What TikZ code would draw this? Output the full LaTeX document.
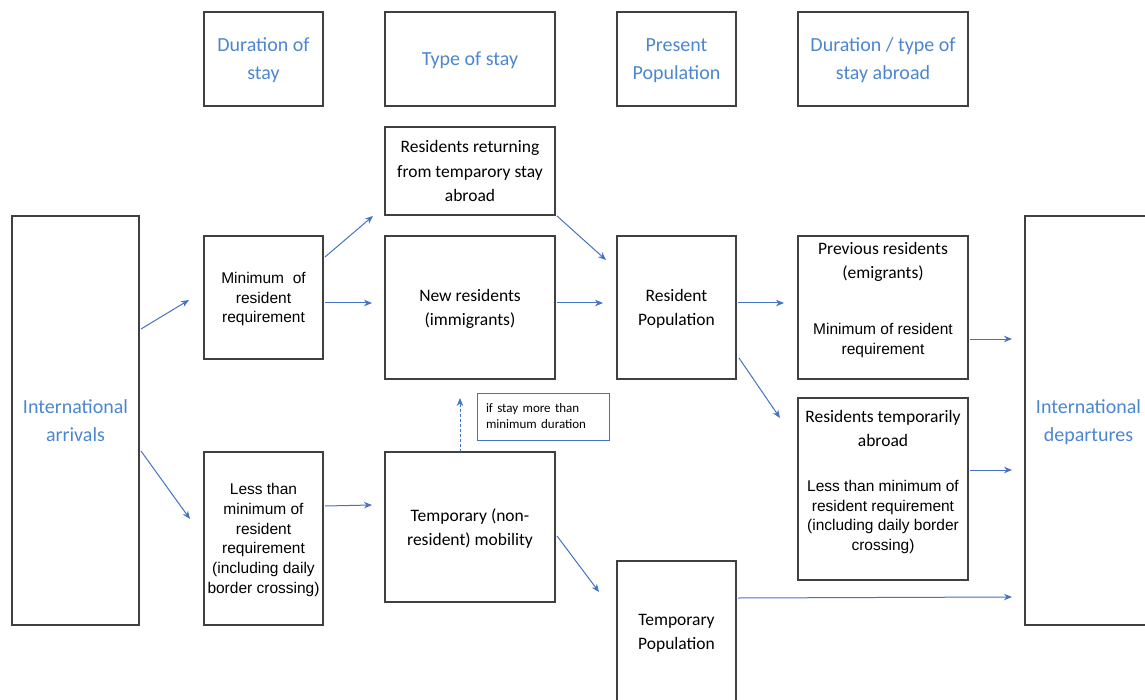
\documentclass[tikz,border=0pt]{standalone}
\usepackage{fontspec}
\setmainfont{Carlito}
\newfontfamily\tahfont{Liberation Sans}
\usetikzlibrary{positioning,calc,arrows.meta}

\definecolor{flowblue}{RGB}{68,114,196}
\definecolor{headblue}{RGB}{76,134,208}
\definecolor{edgegray}{RGB}{64,64,64}
\newcommand{\hdfont}{\fontsize{20}{28}\selectfont}
\newcommand{\bdfont}{\fontsize{17.5}{24.5}\selectfont}
\newcommand{\smfont}{\tahfont\fontsize{15.5}{19.7}\selectfont}

\begin{document}
\begin{tikzpicture}[
    x=1pt, y=-1pt,
    >={Stealth[length=8pt,width=6.5pt]},
    frame/.style={draw=edgegray, line width=1.1pt, align=center, inner sep=0pt, outer sep=0pt},
    box/.style={frame, text depth=0pt},
    head/.style={box, minimum height=94pt, font=\hdfont, text=headblue},
    flow/.style={->, draw=flowblue, line width=1pt}
]
\useasboundingbox (0,0) rectangle (1145,700);
\clip (0,0) rectangle (1145,700);

% column headers
\node[head, minimum width=119pt] (hdur) at (263.5,59) {Duration of\\stay};
\node[head, minimum width=170pt, right=62pt of hdur] (htype) {Type of stay};
\node[head, minimum width=119pt, right=62pt of htype] (hpres) {Present\\Population};
\node[head, minimum width=170pt, right=62pt of hpres] (habroad) {Duration / type of\\stay abroad};

% arrivals and departures
\node[box, minimum width=127pt, minimum height=409pt, font=\hdfont, text=headblue] (arr) at (75.5,420.5) {International\\arrivals};
\node[box, minimum width=127pt, minimum height=409pt, font=\hdfont, text=headblue] (dep) at (1088.5,420.5) {International\\departures};

% duration of stay
\node[box, minimum width=119pt, minimum height=123pt, font=\smfont] (mincol) at (263.5,297.5) {Minimum\ \ of\\resident\\requirement};
\node[box, minimum width=119pt, minimum height=173pt, font=\smfont] (lesscol) at (263.5,538.5) {Less than\\minimum of\\resident\\requirement\\(including daily\\border crossing)};

% type of stay
\node[box, minimum width=170pt, minimum height=88pt, font=\bdfont] (ret) at (470,171) {Residents returning\\from temparory stay\\abroad};
\node[box, minimum width=170pt, minimum height=143pt, font=\bdfont] (newres) at (470,307.5) {New residents\\(immigrants)};
\node[box, minimum width=170pt, minimum height=150pt, font=\bdfont] (tempmob) at (470,527) {Temporary (non-\\resident) mobility};
\node[draw=flowblue, line width=0.9pt, text width=114pt, inner xsep=9pt, minimum height=47pt, align=left, font=\fontsize{13}{16}\selectfont] (note) at (543,416.5) {if stay more than\\minimum duration};

% present population
\node[box, minimum width=119pt, minimum height=143pt, font=\bdfont] (respop) at (676.5,307.5) {Resident\\Population};
\node[box, minimum width=119pt, minimum height=142pt, font=\bdfont] (temppop) at (676.5,632) {Temporary\\Population};

% stay abroad
\node[frame, minimum width=170pt, minimum height=143pt] (prevres) at (883,307.5) {\parbox[c][139pt][t]{166pt}{\centering\vspace*{4pt}{\bdfont Previous residents\\(emigrants)\par}\vspace{36pt}{\smfont Minimum of resident\\requirement\par}}};
\node[frame, minimum width=170pt, minimum height=182pt] (resabroad) at (883,489) {\parbox[c][178pt][t]{166pt}{\centering\vspace*{10pt}{\bdfont Residents temporarily\\abroad\par}\vspace{25pt}{\smfont Less than minimum of\\resident requirement\\(including daily border\\crossing)\par}}};

% flows
\draw[flow] ($(arr.east)+(2,-91.5)$) -- ($(mincol.west)+(-15,2.5)$);
\draw[flow] ($(arr.east)+(2,30.5)$) -- ($(lesscol.west)+(-14,-19.5)$);
\draw[flow] ($(mincol.east)+(2,-40.5)$) -- ($(ret.south west)+(-12,1)$);
\draw[flow] ($(mincol.east)+(2,5.5)$) -- ($(newres.west)+(-13,-4.5)$);
\draw[flow] ($(lesscol.east)+(2,-32.5)$) -- ($(tempmob.west)+(-13,-22)$);
\draw[flow] ($(ret.south east)+(2,1)$) -- ($(respop.north west)+(-11,24)$);
\draw[flow] ($(newres.east)+(2,-4.5)$) -- ($(respop.west)+(-14,-4.5)$);
\draw[flow] ($(tempmob.east)+(2,9)$) -- ($(temppop.north west)+(-18,31)$);
\draw[flow, densely dashed] ($(tempmob.north)+(-10,0)$) -- ($(newres.south)+(-10,19)$);
\draw[flow] ($(respop.east)+(2,-4.5)$) -- ($(prevres.west)+(-14,-4.5)$);
\draw[flow] ($(respop.south east)+(3,-21)$) -- ($(resabroad.north west)+(-18,20)$);
\draw[flow] ($(prevres.east)+(2,31.5)$) -- ($(dep.west)+(-13,-81.5)$);
\draw[flow] ($(resabroad.east)+(2,-19)$) -- ($(dep.west)+(-13,49.5)$);
\draw[flow] ($(temppop.east)+(2,-34)$) -- ($(dep.west)+(-13,176.5)$);
\end{tikzpicture}
\end{document}
